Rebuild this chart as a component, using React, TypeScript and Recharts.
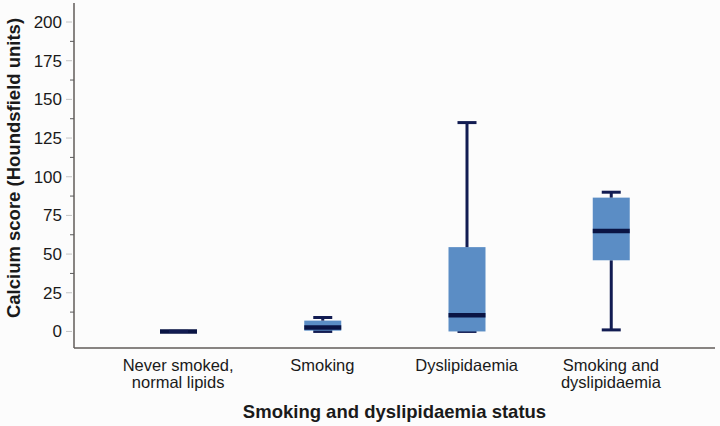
import { ComposedChart, Bar, XAxis, YAxis } from "recharts";

// box plot summary per group (Houndsfield units)
const categories = [
  "Never smoked,\nnormal lipids",
  "Smoking",
  "Dyslipidaemia",
  "Smoking and\ndyslipidaemia",
];
const whiskerLow = [0, 0, 0, 1];
const quartile1 = [0, 0.5, 0, 46];
const median = [0, 2.5, 10.5, 65];
const quartile3 = [0, 7, 54.5, 86.5];
const whiskerHigh = [0, 9, 135, 90];

const yMajorTicks = [0, 25, 50, 75, 100, 125, 150, 175, 200];
const yMinorTicks = [12.5, 37.5, 62.5, 87.5, 112.5, 137.5, 162.5, 187.5];

const data = categories.map((name, i) => ({
  name,
  base: whiskerLow[i],
  lowWhisker: quartile1[i] - whiskerLow[i],
  lowBox: median[i] - quartile1[i],
  highBox: quartile3[i] - median[i],
  highWhisker: whiskerHigh[i] - quartile3[i],
}));

const FONT = "'Liberation Sans', Arial, sans-serif";
const NAVY = "#121c52";
const MEDIAN = "#0a1444";
const BOX = "#5b8dc5";
const FRAME = "#625c5a";

const Empty = () => <g />;

function LowWhisker(p: any) {
  const cx = p.x + p.width / 2;
  const y2 = p.y + p.height;
  return (
    <g>
      {p.height > 0 && (
        <line x1={cx} x2={cx} y1={p.y} y2={y2} stroke={NAVY} strokeWidth={3} />
      )}
      <line x1={cx - 9.5} x2={cx + 9.5} y1={y2} y2={y2} stroke={NAVY} strokeWidth={3} />
    </g>
  );
}

function HighWhisker(p: any) {
  const cx = p.x + p.width / 2;
  return (
    <g>
      {p.height > 0 && (
        <line x1={cx} x2={cx} y1={p.y} y2={p.y + p.height} stroke={NAVY} strokeWidth={3} />
      )}
      <line x1={cx - 9.5} x2={cx + 9.5} y1={p.y} y2={p.y} stroke={NAVY} strokeWidth={3} />
    </g>
  );
}

function LowBox(p: any) {
  if (!(p.height > 0)) return <g />;
  return <rect x={p.x} y={p.y} width={p.width} height={p.height} fill={BOX} />;
}

function HighBox(p: any) {
  const my = p.y + p.height;
  return (
    <g>
      {p.height > 0 && <rect x={p.x} y={p.y} width={p.width} height={p.height} fill={BOX} />}
      <line x1={p.x} x2={p.x + p.width} y1={my} y2={my} stroke={MEDIAN} strokeWidth={4.5} />
    </g>
  );
}

function CategoryTick({ x, y, payload }: any) {
  const lines = String(payload.value).split("\n");
  return (
    <text x={x} y={y} textAnchor="middle" fontSize={16.5} fill="#1a1a1a" fontFamily={FONT}>
      {lines.map((l, i) => (
        <tspan key={i} x={x} dy={i === 0 ? 23 : 17}>
          {l}
        </tspan>
      ))}
    </text>
  );
}

function ValueTick({ x, y, payload }: any) {
  const major = yMajorTicks.includes(payload.value);
  if (!major) {
    return <line x1={x - 4} x2={x} y1={y} y2={y} stroke="#5a5a5a" strokeWidth={1} />;
  }
  return (
    <g>
      <line x1={x - 8} x2={x - 2} y1={y} y2={y} stroke="#c4c4c4" strokeWidth={1} />
      <text x={x - 12} y={y} dy={6} textAnchor="end" fontSize={17} fill="#1a1a1a" fontFamily={FONT}>
        {payload.value}
      </text>
    </g>
  );
}

function YTitle() {
  const cy = 168;
  return (
    <text
      x={20}
      y={cy}
      transform={`rotate(-90, 20, ${cy})`}
      textAnchor="middle"
      fontSize={18.5}
      fontWeight="bold"
      fill="#1a1a1a"
      fontFamily={FONT}
    >
      Calcium score (Houndsfield units)
    </text>
  );
}

export default function App() {
  const ticks = [...yMajorTicks, ...yMinorTicks].sort((a, b) => a - b);
  return (
    <div style={{ position: "absolute", left: 0, top: 0, width: 720, height: 426, background: "#fcfcfc" }}>
      <ComposedChart
        width={720}
        height={426}
        data={data}
        margin={{ top: 3, right: 5, left: 0, bottom: 0 }}
        barSize={37}
      >
        <XAxis
          dataKey="name"
          height={78}
          padding={{ left: 32, right: 32 }}
          tick={<CategoryTick />}
          tickSize={0}
          tickMargin={0}
          interval={0}
          axisLine={{ stroke: FRAME, strokeWidth: 1.5 }}
          tickLine={false}
          label={{
            value: "Smoking and dyslipidaemia status",
            position: "insideBottom",
            offset: 8,
            fontSize: 18.5,
            fontWeight: "bold",
            fill: "#1a1a1a",
            fontFamily: FONT,
          }}
        />
        <XAxis
          xAxisId="top"
          dataKey="name"
          orientation="top"
          height={0}
          tick={false}
          tickLine={false}
          axisLine={{ stroke: FRAME, strokeWidth: 1.5 }}
        />
        <YAxis
          type="number"
          width={74}
          domain={[-10.7, 212.3]}
          allowDataOverflow
          ticks={ticks}
          interval={0}
          tick={<ValueTick />}
          tickSize={0}
          tickMargin={0}
          tickLine={false}
          axisLine={{ stroke: FRAME, strokeWidth: 1.5 }}
          label={<YTitle />}
        />
        <YAxis
          yAxisId="right"
          orientation="right"
          width={0}
          domain={[-10.7, 212.3]}
          tick={false}
          tickLine={false}
          axisLine={{ stroke: FRAME, strokeWidth: 1.5 }}
        />
        <Bar dataKey="base" stackId="box" shape={<Empty />} isAnimationActive={false} />
        <Bar dataKey="lowWhisker" stackId="box" shape={<LowWhisker />} isAnimationActive={false} />
        <Bar dataKey="lowBox" stackId="box" shape={<LowBox />} isAnimationActive={false} />
        <Bar dataKey="highBox" stackId="box" shape={<HighBox />} isAnimationActive={false} />
        <Bar dataKey="highWhisker" stackId="box" shape={<HighWhisker />} isAnimationActive={false} />
      </ComposedChart>
    </div>
  );
}
